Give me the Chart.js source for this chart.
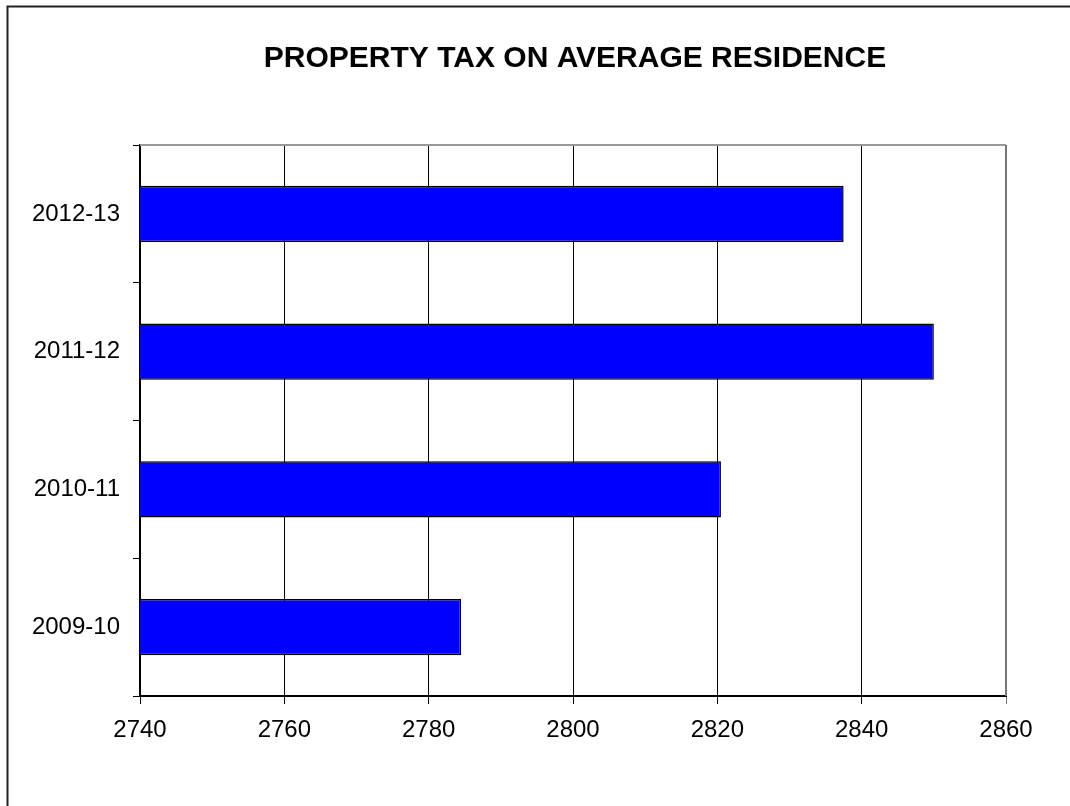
<!DOCTYPE html>
<html>
<head>
<meta charset="utf-8">
<script src="https://cdn.jsdelivr.net/npm/chart.js@4"></script>
<style>
html,body{margin:0;padding:0;background:#fff;}
#wrap{width:1070px;height:806px;position:relative;}
</style>
</head>
<body>
<div id="wrap"><canvas id="c" width="1070" height="806"></canvas></div>
<script>
const chartTitle = 'PROPERTY TAX ON AVERAGE RESIDENCE';
const categories = ['2009-10', '2010-11', '2011-12', '2012-13'];
const taxValues = [2784.5, 2820.5, 2850, 2837.5];
const xTicks = [2740, 2760, 2780, 2800, 2820, 2840, 2860];

const FONT = '"Liberation Sans", Arial, sans-serif';

const framePlugin = {
  id: 'frame',
  beforeDraw(chart) {
    const ctx = chart.ctx;
    ctx.save();
    ctx.fillStyle = '#fff';
    ctx.fillRect(0, 0, chart.width, chart.height);
    ctx.restore();
  },
  afterDraw(chart) {
    const ctx = chart.ctx;
    const a = chart.chartArea;
    ctx.save();
    ctx.strokeStyle = '#222';
    ctx.lineWidth = 2;
    ctx.beginPath();
    ctx.moveTo(7.5, 806);
    ctx.lineTo(7.5, 6.5);
    ctx.lineTo(1070, 6.5);
    ctx.stroke();
    ctx.strokeStyle = '#999';
    ctx.lineWidth = 2;
    ctx.beginPath();
    ctx.moveTo(a.left, a.top);
    ctx.lineTo(a.right, a.top);
    ctx.stroke();
    ctx.strokeStyle = '#777';
    ctx.beginPath();
    ctx.moveTo(a.right, a.top);
    ctx.lineTo(a.right, a.bottom);
    ctx.stroke();
    ctx.fillStyle = '#000';
    ctx.font = 'bold 30px ' + FONT;
    ctx.textAlign = 'center';
    ctx.textBaseline = 'alphabetic';
    ctx.fillText(chartTitle, 575, 67);
    ctx.restore();
  }
};

new Chart(document.getElementById('c'), {
  type: 'bar',
  data: {
    labels: categories,
    datasets: [{
      data: taxValues,
      backgroundColor: '#0000FF',
      borderColor: '#000',
      borderWidth: 1.5,
      borderSkipped: false,
      barPercentage: 0.407,
      categoryPercentage: 1.0
    }]
  },
  options: {
    indexAxis: 'y',
    responsive: false,
    animation: false,
    devicePixelRatio: 1,
    layout: { padding: { top: 145, right: 64, left: 0, bottom: 0 } },
    plugins: { legend: { display: false }, title: { display: false }, tooltip: { enabled: false } },
    scales: {
      x: {
        min: 2740, max: 2860,
        afterBuildTicks(scale) { scale.ticks = xTicks.map(v => ({ value: v })); },
        afterFit(scale) { scale.height = 110; },
        ticks: { color: '#000', font: { family: FONT, size: 24 }, padding: 12, maxRotation: 0, callback: v => String(v) },
        grid: { color: ctx => (ctx.tick && ctx.tick.value === 2860) ? '#777' : '#000', lineWidth: 1, tickLength: 8, drawTicks: true },
        border: { color: '#000', width: 2 }
      },
      y: {
        reverse: true,
        afterFit(scale) { scale.width = 140; },
        ticks: { color: '#000', font: { family: FONT, size: 24 }, padding: 13 },
        grid: { offset: true, drawOnChartArea: false, drawTicks: true, tickLength: 7, color: '#000', lineWidth: 1 },
        border: { color: '#000', width: 2 }
      }
    }
  },
  plugins: [framePlugin]
});
</script>
</body>
</html>
